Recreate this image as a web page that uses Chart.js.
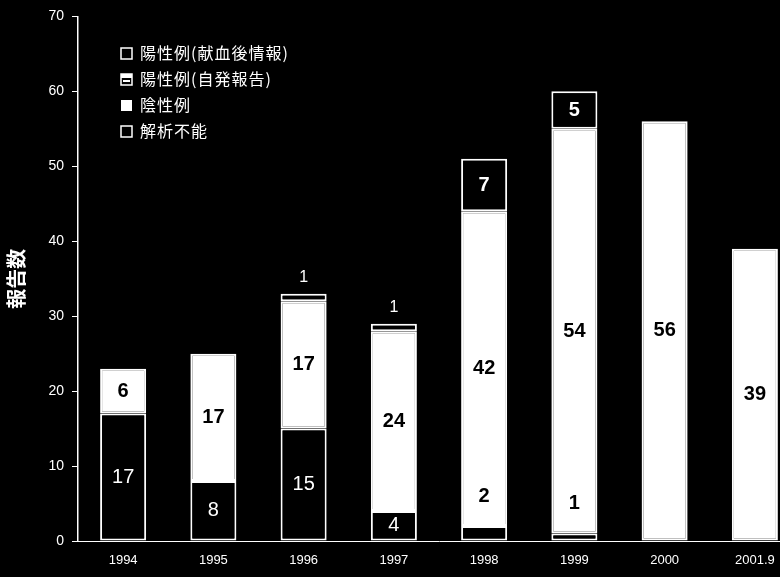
<!DOCTYPE html>
<html>
<head>
<meta charset="utf-8">
<script src="https://cdn.jsdelivr.net/npm/chart.js"></script>
<style>
  html, body { margin: 0; padding: 0; background: #000; overflow: hidden; }
  #wrap { width: 800px; height: 577px; }
</style>
</head>
<body>
<div id="wrap"><canvas id="reportChart"></canvas></div>
<script>
// years (last one is up to Sep 2001)
var years = ['1994', '1995', '1996', '1997', '1998', '1999', '2000', '2001.9'];
var yTicks = [0, 10, 20, 30, 40, 50, 60, 70];

// stacked from bottom to top
var unknownCounts   = [17, 8, 15, 4, 2, 1, 0, 0];     // 解析不能
var negativeCounts  = [6, 17, 17, 24, 42, 54, 56, 39]; // 陰性例
var selfReported    = [0, 0, 1, 1, 0, 0, 0, 0];       // 陽性例(自発報告)
var postDonation    = [0, 0, 0, 0, 7, 5, 0, 0];       // 陽性例(献血後情報)

var jpFont = '"Noto Sans CJK JP", sans-serif';
var numFont = '"Liberation Sans Narrow", "Liberation Sans", Arial, sans-serif';

// legend drawn inside the plot, like the original
var legendPlugin = {
    id: 'innerLegend',
    afterDraw: function(chart) {
        var ctx = chart.ctx;
        var items = [
            { text: '陽性例(献血後情報)', kind: 'outlineDark' },
            { text: '陽性例(自発報告)', kind: 'hatch' },
            { text: '陰性例', kind: 'filled' },
            { text: '解析不能', kind: 'outline' }
        ];
        var x = chart.chartArea.left + 43;
        var y = 53;
        ctx.save();
        ctx.font = '16px ' + jpFont;
        ctx.letterSpacing = '1px';
        ctx.textBaseline = 'middle';
        items.forEach(function(it, i) {
            var cy = y + i * 26;
            ctx.strokeStyle = '#fff';
            ctx.lineWidth = 1.5;
            if (it.kind === 'filled') {
                ctx.fillStyle = '#fff';
                ctx.fillRect(x, cy - 5, 11, 11);
            } else {
                ctx.strokeRect(x, cy - 5, 11, 11);
                if (it.kind === 'hatch') {
                    ctx.fillStyle = '#fff';
                    ctx.fillRect(x, cy - 5, 11, 4);
                    ctx.fillRect(x + 2, cy + 1, 7, 2);
                }
            }
            ctx.fillStyle = '#fff';
            ctx.fillText(it.text, x + 19, cy);
        });
        ctx.restore();
    }
};

// value labels on the segments
var valueLabels = {
    id: 'valueLabels',
    afterDatasetsDraw: function(chart) {
        var ctx = chart.ctx;
        ctx.save();
        ctx.textAlign = 'center';
        ctx.textBaseline = 'middle';
        chart.data.datasets.forEach(function(ds, di) {
            var meta = chart.getDatasetMeta(di);
            meta.data.forEach(function(bar, i) {
                var v = ds.data[i];
                if (!v) return;
                var top = bar.y, bottom = bar.base;
                var cy = (top + bottom) / 2;
                if (di === 1) {
                    ctx.fillStyle = '#000';
                    ctx.font = 'bold 20px ' + numFont;
                } else {
                    ctx.fillStyle = '#fff';
                    ctx.font = (di === 0 ? '' : 'bold ') + '20px ' + numFont;
                }
                if (bottom - top < 20) {
                    if (di === 0) {
                        // too thin: write it in the white part above
                        ctx.fillStyle = '#000';
                        ctx.font = 'bold 20px ' + numFont;
                        cy = top - 30;
                    } else {
                        ctx.font = '16px ' + numFont;
                        cy = top - 16;
                    }
                }
                ctx.fillText(String(v), bar.x, cy);
            });
        });
        ctx.restore();
    }
};

function segment(label, data, fill, border) {
    return {
        label: label,
        data: data,
        backgroundColor: fill,
        borderColor: border,
        borderWidth: 2,
        borderSkipped: false,
        inflateAmount: 0,
        categoryPercentage: 1,
        barPercentage: 0.51
    };
}

var ctx = document.getElementById('reportChart').getContext('2d');
var chart = new Chart(ctx, {
    type: 'bar',
    data: {
        labels: years,
        datasets: [
            segment('解析不能', unknownCounts, '#000', '#fff'),
            segment('陰性例', negativeCounts, '#fff', '#fff'),
            segment('陽性例(自発報告)', selfReported, '#000', '#fff'),
            segment('陽性例(献血後情報)', postDonation, '#000', '#fff')
        ]
    },
    options: {
        responsive: true,
        maintainAspectRatio: false,
        animation: false,
        layout: { padding: { top: 16, left: 0, right: 0, bottom: 0 } },
        plugins: {
            legend: { display: false },
            tooltip: { enabled: false }
        },
        scales: {
            x: {
                stacked: true,
                grid: { display: false, drawTicks: false },
                border: { color: '#fff', width: 1, dash: [6, 2] },
                ticks: {
                    color: '#fff',
                    font: { family: numFont, size: 13 },
                    padding: 12,
                    maxRotation: 0,
                    autoSkip: false
                },
                afterFit: function(s) { s.height = 36; }
            },
            y: {
                stacked: true,
                min: 0,
                max: 70,
                afterBuildTicks: function(s) {
                    s.ticks = yTicks.map(function(v) { return { value: v }; });
                },
                grid: { display: true, drawOnChartArea: false, color: '#fff', tickLength: 6 },
                border: { color: '#fff', width: 1.5, dash: [8, 2] },
                ticks: {
                    color: '#fff',
                    font: { family: numFont, size: 14 },
                    padding: 8
                },
                title: {
                    display: true,
                    text: '報告数',
                    color: '#fff',
                    font: { family: jpFont, size: 20, weight: 'bold' },
                    padding: { top: 4, bottom: 0 }
                },
                afterFit: function(s) { s.width = 78; }
            }
        }
    },
    plugins: [legendPlugin, valueLabels]
});
</script>
</body>
</html>
